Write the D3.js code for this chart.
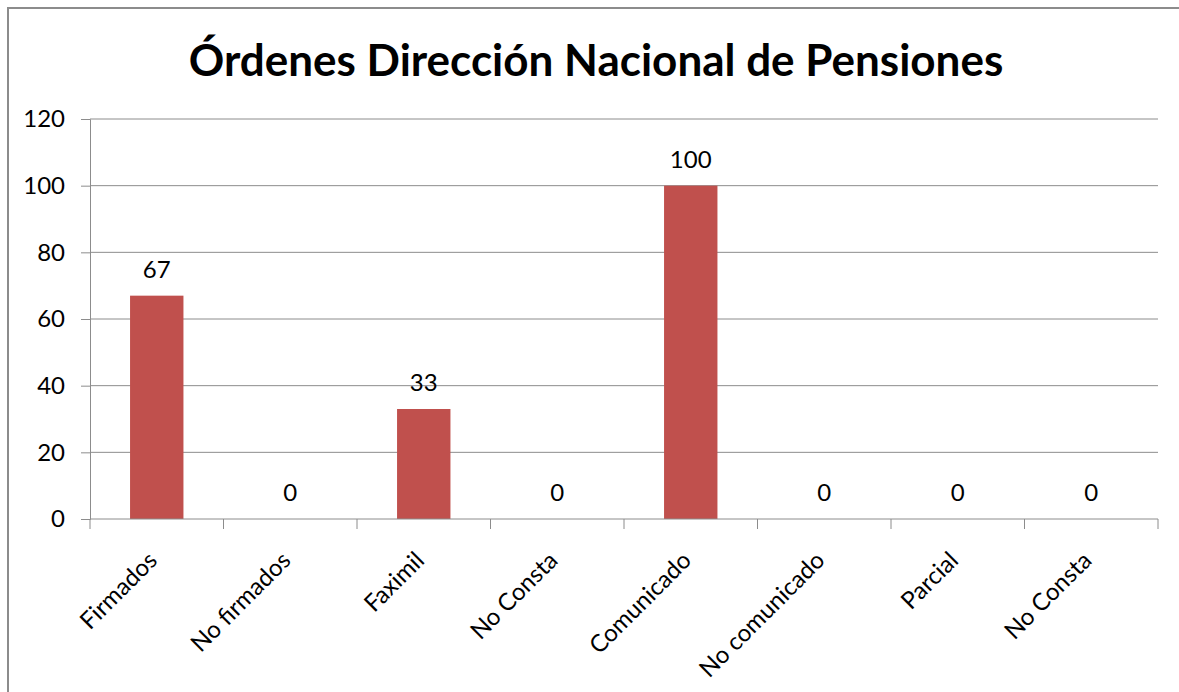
<!DOCTYPE html>
<html>
<head>
<meta charset="utf-8">
<script src="https://cdn.jsdelivr.net/npm/d3@7"></script>
<style>
  body { margin: 0; background: #fff; }
  text { font-family: Lato, "Open Sans", sans-serif; }
</style>
</head>
<body>
<script>
const categories = ["Firmados", "No firmados", "Faximil", "No Consta", "Comunicado", "No comunicado", "Parcial", "No Consta"];
const values = [67, 0, 33, 0, 100, 0, 0, 0];
const yTicks = [0, 20, 40, 60, 80, 100, 120];
const title = "Órdenes Dirección Nacional de Pensiones";

const width = 1179, height = 692;
const margin = {top: 119, right: 21, bottom: 173, left: 90};

const svg = d3.select("body").append("svg")
    .attr("width", width)
    .attr("height", height);

// marco del gráfico
svg.append("path")
    .attr("d", `M8,${height}V8H${width}`)
    .attr("fill", "none")
    .attr("stroke", "#8c8c8c")
    .attr("stroke-width", 2);

svg.append("text")
    .attr("x", 596)
    .attr("y", 76)
    .attr("text-anchor", "middle")
    .style("font-size", "44px")
    .style("font-weight", "bold")
    .text(title);

const x = d3.scaleBand()
    .domain(d3.range(categories.length))
    .range([margin.left, width - margin.right])
    .padding(0);

const y = d3.scaleLinear()
    .domain([0, 120])
    .range([height - margin.bottom, margin.top]);

// rejilla
svg.append("g")
  .selectAll("line")
  .data(yTicks.slice(1))
  .join("line")
    .attr("x1", margin.left)
    .attr("x2", width - margin.right)
    .attr("y1", d => y(d))
    .attr("y2", d => y(d))
    .attr("stroke", "#8c8c8c")
    .attr("stroke-width", 1);

// eje Y
const yAxis = svg.append("g")
    .attr("transform", `translate(${margin.left},0)`)
    .call(d3.axisLeft(y).tickValues(yTicks).tickSize(9).tickPadding(16));
yAxis.select(".domain").attr("stroke", "#8c8c8c");
yAxis.selectAll(".tick line").attr("stroke", "#8c8c8c");
yAxis.selectAll("text").style("font-size", "24px").attr("fill", "#000");

// barras
const barW = x.bandwidth() * 0.4;
svg.append("g")
  .selectAll("rect")
  .data(values)
  .join("rect")
    .attr("x", (d, i) => x(i) + (x.bandwidth() - barW) / 2)
    .attr("y", d => y(d))
    .attr("width", barW)
    .attr("height", d => y(0) - y(d))
    .attr("fill", "#c0504d");

// etiquetas de datos
svg.append("g")
  .selectAll("text")
  .data(values)
  .join("text")
    .attr("x", (d, i) => x(i) + x.bandwidth() / 2)
    .attr("y", d => y(d) - 26)
    .attr("text-anchor", "middle")
    .attr("dy", "0.35em")
    .style("font-size", "24px")
    .text(d => d);

// eje X
const xAxis = svg.append("g")
    .attr("transform", `translate(0,${y(0)})`);
xAxis.append("line")
    .attr("x1", margin.left)
    .attr("x2", width - margin.right)
    .attr("stroke", "#8c8c8c");
xAxis.selectAll(".tk")
  .data(d3.range(categories.length + 1))
  .join("line")
    .attr("class", "tk")
    .attr("x1", i => margin.left + i * x.bandwidth())
    .attr("x2", i => margin.left + i * x.bandwidth())
    .attr("y1", 0)
    .attr("y2", 10)
    .attr("stroke", "#8c8c8c");
xAxis.selectAll(".lbl")
  .data(categories)
  .join("text")
    .attr("class", "lbl")
    .attr("text-anchor", "end")
    .attr("transform", (d, i) => `translate(${x(i) + x.bandwidth() / 2 - 4},${37}) rotate(-45)`)
    .attr("dy", "0.35em")
    .style("font-size", "24px")
    .text(d => d);
</script>
</body>
</html>
